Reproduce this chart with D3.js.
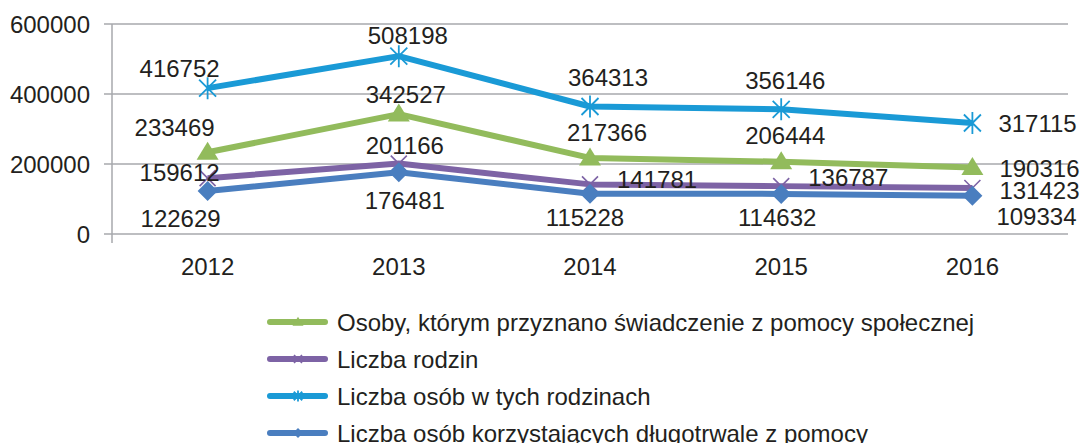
<!DOCTYPE html>
<html>
<head>
<meta charset="utf-8">
<script src="https://cdn.jsdelivr.net/npm/d3@7"></script>
<style>
  body { margin: 0; background: #fff; }
  svg { display: block; font-family: "Liberation Sans", Arial, sans-serif; }
  .tick text { font-size: 24px; fill: #231f20; }
</style>
</head>
<body>
<svg id="chart"></svg>
<script>
const years = ['2012', '2013', '2014', '2015', '2016']
const yTicks = [0, 200000, 400000, 600000]

const osoby = [233469, 342527, 217366, 206444, 190316]
const rodziny = [159612, 201166, 141781, 136787, 131423]
const osobyWRodzinach = [416752, 508198, 364313, 356146, 317115]
const dlugotrwale = [122629, 176481, 115228, 114632, 109334]

const seriesNames = [
  'Osoby, którym przyznano świadczenie z pomocy społecznej',
  'Liczba rodzin',
  'Liczba osób w tych rodzinach',
  'Liczba osób korzystających długotrwale z pomocy'
]

// label offsets relative to the point: [dx, dy, anchor]
const labelPos = [
  [[-33, -25, 'middle'], [7, -20, 'middle'], [17, -26, 'middle'], [4, -26, 'middle'], [27, 1, 'start']],
  [[-28, -6, 'middle'], [6, -18, 'middle'], [27, -5, 'start'], [27, -9, 'start'], [27, 2, 'start']],
  [[-28, -20, 'middle'], [9, -21, 'middle'], [18, -29, 'middle'], [4, -29, 'middle'], [26, 0, 'start']],
  [[-27, 27, 'middle'], [6, 28, 'middle'], [-5, 24, 'middle'], [-4, 23, 'middle'], [24, 21, 'start']]
]

const series = [
  { name: seriesNames[0], values: osoby, color: '#92bb5c', marker: 'triangle' },
  { name: seriesNames[1], values: rodziny, color: '#7d63a5', marker: 'x' },
  { name: seriesNames[2], values: osobyWRodzinach, color: '#1a9ad6', marker: 'star' },
  { name: seriesNames[3], values: dlugotrwale, color: '#4a7ebf', marker: 'diamond' }
]

const width = 1081, height = 443
const margin = { top: 24, left: 112, right: 13, bottom: 209 }

const svg = d3.select('#chart').attr('width', width).attr('height', height)

const x = d3.scaleBand().domain(years).range([margin.left, width - margin.right])
const y = d3.scaleLinear().domain([0, 600000]).range([height - margin.bottom, margin.top])

// gridlines
svg.append('g')
  .selectAll('line')
  .data(yTicks)
  .join('line')
  .attr('x1', margin.left - 8)
  .attr('x2', width - margin.right)
  .attr('y1', d => y(d))
  .attr('y2', d => y(d))
  .attr('stroke', '#a7a9ac')
  .attr('stroke-width', 1.5)

// vertical axis line
svg.append('line')
  .attr('x1', margin.left).attr('x2', margin.left)
  .attr('y1', margin.top).attr('y2', y(0) + 9)
  .attr('stroke', '#a7a9ac')
  .attr('stroke-width', 1.5)

const yAxis = svg.append('g')
  .attr('transform', `translate(${margin.left}, 0)`)
  .call(d3.axisLeft(y).tickValues(yTicks).tickSize(0).tickPadding(22).tickFormat(d3.format('d')))
yAxis.select('.domain').remove()
yAxis.selectAll('text').attr('dy', '0.36em')

const xAxis = svg.append('g')
  .attr('transform', `translate(0, ${y(0)})`)
  .call(d3.axisBottom(x).tickSize(0).tickPadding(24))
xAxis.select('.domain').remove()

const line = d3.line()
  .x((d, i) => x(years[i]) + x.bandwidth() / 2)
  .y(d => y(d))

function drawMarker(g, type, color, s) {
  if (type === 'triangle') {
    g.append('path')
      .attr('d', `M0,${-s * 1.05}L${s * 1.1},${s * 0.75}L${-s * 1.1},${s * 0.75}Z`)
      .attr('fill', color)
  } else if (type === 'diamond') {
    g.append('path')
      .attr('d', `M0,${-s}L${s},0L0,${s}L${-s},0Z`)
      .attr('fill', color)
  } else if (type === 'x') {
    g.append('path')
      .attr('d', `M${-s * 0.8},${-s * 0.8}L${s * 0.8},${s * 0.8}M${s * 0.8},${-s * 0.8}L${-s * 0.8},${s * 0.8}`)
      .attr('stroke', color).attr('stroke-width', 1.6).attr('fill', 'none')
  } else if (type === 'star') {
    g.append('path')
      .attr('d', `M${-s * 0.85},${-s * 0.85}L${s * 0.85},${s * 0.85}M${s * 0.85},${-s * 0.85}L${-s * 0.85},${s * 0.85}M0,${-s * 1.1}L0,${s * 1.1}`)
      .attr('stroke', color).attr('stroke-width', 1.8).attr('fill', 'none')
  }
}

const plot = svg.append('g')
series.forEach(s => {
  plot.append('path')
    .datum(s.values)
    .attr('d', line)
    .attr('fill', 'none')
    .attr('stroke', s.color)
    .attr('stroke-width', 6)
    .attr('stroke-linejoin', 'round')

  s.values.forEach((v, i) => {
    const g = plot.append('g')
      .attr('transform', `translate(${x(years[i]) + x.bandwidth() / 2}, ${y(v)})`)
    drawMarker(g, s.marker, s.color, 10)
  })
})

// data labels on top
const labels = svg.append('g')
  .attr('font-size', 24)
  .attr('fill', '#231f20')
series.forEach((s, si) => {
  s.values.forEach((v, i) => {
    const p = labelPos[si][i]
    labels.append('text')
      .attr('x', x(years[i]) + x.bandwidth() / 2 + p[0])
      .attr('y', y(v) + p[1])
      .attr('dy', '0.36em')
      .attr('text-anchor', p[2])
      .text(v)
  })
})

// legend
const legend = svg.append('g')
  .attr('transform', 'translate(270, 322)')
series.forEach((s, i) => {
  const g = legend.append('g').attr('transform', `translate(0, ${i * 37})`)
  g.append('line')
    .attr('x1', 0).attr('x2', 55)
    .attr('stroke', s.color)
    .attr('stroke-width', 6)
    .attr('stroke-linecap', 'round')
  const m = g.append('g').attr('transform', 'translate(28, 0)')
  drawMarker(m, s.marker, s.color, 5)
  g.append('text')
    .attr('x', 67)
    .attr('dy', '0.36em')
    .attr('font-size', 24)
    .attr('fill', '#231f20')
    .text(s.name)
})
</script>
</body>
</html>
